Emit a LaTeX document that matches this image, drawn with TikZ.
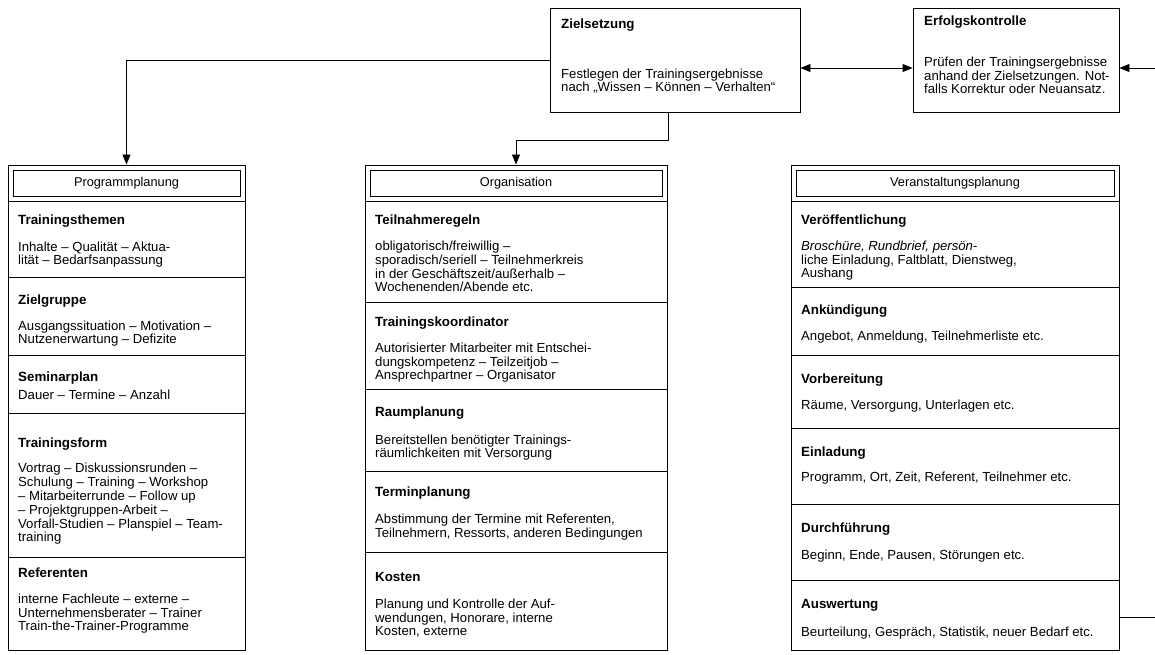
\documentclass[tikz,border=0pt]{standalone}
\usepackage{fontspec}
\setmainfont{Liberation Sans}
\usetikzlibrary{positioning, arrows.meta}

\begin{document}
\begin{tikzpicture}[
    x=1bp, y=-1bp,
    rahmen/.style={draw, line width=0.9bp, inner sep=0pt},
    kopf/.style={draw, line width=0.8bp, inner sep=0pt, font=\fontsize{12.8}{14}\selectfont},
    titel/.style={anchor=base west, inner sep=0pt, font=\fontsize{13.4}{15}\selectfont\bfseries},
    % base sits on the last line, so shift down by the number of lines
    inhalt/.style={anchor=base west, inner sep=0pt, align=left,
                   font=\fontsize{13.2}{14}\selectfont, yshift={-(#1-1)*14.05pt}},
    inhalt/.default=1,
    linie/.style={line width=0.8bp},
    pfeil/.style={-{Triangle[length=10bp, width=8bp]}, line width=0.9bp},
    doppel/.style={{Triangle[length=10bp, width=8bp]}-{Triangle[length=10bp, width=8bp]}, line width=0.9bp}
  ]
  \useasboundingbox (0,0) rectangle (1155,655);

  % Zielsetzung und Erfolgskontrolle
  \node[rahmen, minimum width=250bp, minimum height=104bp] (ziel) at (675,60) {};
  \node[titel] (ziel-t) at (561,29) {Zielsetzung};
  \node[inhalt=2] (ziel-b) at (561,78) {Festlegen der Trainingsergebnisse\\nach „Wissen – Können – Verhalten“};

  \node[rahmen, minimum width=206bp, minimum height=104bp] (erfolg) at (1016,60) {};
  \node[titel] (erfolg-t) at (924,26) {Erfolgskontrolle};
  \node[inhalt=3] (erfolg-b) at (924,66) {Prüfen der Trainingsergebnisse\\anhand der Zielsetzungen. Not-\\falls Korrektur oder Neuansatz.};

  % drei Spalten
  \node[rahmen, minimum width=237bp, minimum height=485bp] (prog) at (126.5,407.5) {};
  \node[kopf, minimum width=227bp, minimum height=26bp] (prog-k) at (126.5,183) {Programmplanung};
  \node[rahmen, minimum width=302bp, minimum height=485bp] (org) at (516,407.5) {};
  \node[kopf, minimum width=292bp, minimum height=26bp] (org-k) at (516,183) {Organisation};
  \node[rahmen, minimum width=328bp, minimum height=485bp] (veran) at (955,407.5) {};
  \node[kopf, minimum width=318bp, minimum height=26bp] (veran-k) at (955,183) {Veranstaltungsplanung};

  \foreach \y in {201,277,355,413,557} \draw[linie] (8,\y) -- (245,\y);
  \foreach \y in {201,302,389,471,552} \draw[linie] (365,\y) -- (667,\y);
  \foreach \y in {201,287,355,428,504,580} \draw[linie] (791,\y) -- (1119,\y);

  % Programmplanung
  \node[titel] (themen) at (18,225) {Trainingsthemen};
  \node[inhalt=2] (themen-b) at (18,251) {Inhalte – Qualität – Aktua-\\lität – Bedarfsanpassung};
  \node[titel] (gruppe) at (18,304) {Zielgruppe};
  \node[inhalt=2] (gruppe-b) at (18,330) {Ausgangssituation – Motivation –\\Nutzenerwartung – Defizite};
  \node[titel] (plan) at (18,381) {Seminarplan};
  \node[inhalt] (plan-b) at (18,399) {Dauer – Termine – Anzahl};
  \node[titel] (form) at (18,447) {Trainingsform};
  \node[inhalt=6] (form-b) at (18,472) {Vortrag – Diskussionsrunden –\\Schulung – Training – Workshop\\– Mitarbeiterrunde – Follow up\\– Projektgruppen-Arbeit –\\Vorfall-Studien – Planspiel – Team-\\training};
  \node[titel] (ref) at (18,577) {Referenten};
  \node[inhalt=3] (ref-b) at (18,603) {interne Fachleute – externe –\\Unternehmensberater – Trainer\\Train-the-Trainer-Programme};

  % Organisation
  \node[titel] (regeln) at (375,225) {Teilnahmeregeln};
  \node[inhalt=4] (regeln-b) at (375,250) {obligatorisch/freiwillig –\\sporadisch/seriell – Teilnehmerkreis\\in der Geschäftszeit/außerhalb –\\Wochenenden/Abende etc.};
  \node[titel] (koord) at (375,326) {Trainingskoordinator};
  \node[inhalt=3] (koord-b) at (375,352) {Autorisierter Mitarbeiter mit Entschei-\\dungskompetenz – Teilzeitjob –\\Ansprechpartner – Organisator};
  \node[titel] (raum) at (375,416) {Raumplanung};
  \node[inhalt=2] (raum-b) at (375,444) {Bereitstellen benötigter Trainings-\\räumlichkeiten mit Versorgung};
  \node[titel] (termin) at (375,496) {Terminplanung};
  \node[inhalt=2] (termin-b) at (375,523) {Abstimmung der Termine mit Referenten,\\Teilnehmern, Ressorts, anderen Bedingungen};
  \node[titel] (kosten) at (375,581) {Kosten};
  \node[inhalt=3] (kosten-b) at (375,608) {Planung und Kontrolle der Auf-\\wendungen, Honorare, interne\\Kosten, externe};

  % Veranstaltungsplanung
  \node[titel] (publ) at (801,225) {Veröffentlichung};
  \node[inhalt=3] (publ-b) at (801,250) {\itshape Broschüre, Rundbrief, persön-\\liche Einladung, Faltblatt, Dienstweg,\\Aushang};
  \node[titel] (ankuend) at (801,314) {Ankündigung};
  \node[inhalt] (ankuend-b) at (801,340) {Angebot, Anmeldung, Teilnehmerliste etc.};
  \node[titel] (vorb) at (801,383) {Vorbereitung};
  \node[inhalt] (vorb-b) at (801,409) {Räume, Versorgung, Unterlagen etc.};
  \node[titel] (einl) at (801,456) {Einladung};
  \node[inhalt] (einl-b) at (801,481) {Programm, Ort, Zeit, Referent, Teilnehmer etc.};
  \node[titel] (durchf) at (801,532) {Durchführung};
  \node[inhalt] (durchf-b) at (801,559) {Beginn, Ende, Pausen, Störungen etc.};
  \node[titel] (ausw) at (801,608) {Auswertung};
  \node[inhalt] (ausw-b) at (801,636) {Beurteilung, Gespräch, Statistik, neuer Bedarf etc.};

  % Verbindungen
  \coordinate (knick) at (668,140);
  \coordinate (rueck) at (1175,617);
  \draw[pfeil] (ziel.west) -| (prog.north);
  \draw[pfeil] (ziel.south -| knick) -- (knick) -| (org.north);
  \draw[doppel] ([yshift=-8bp]ziel.east) -- ([yshift=-8bp]erfolg.west);
  \draw[pfeil] (rueck -| veran.east) -- (rueck) |- ([yshift=-8bp]erfolg.east);
\end{tikzpicture}
\end{document}
